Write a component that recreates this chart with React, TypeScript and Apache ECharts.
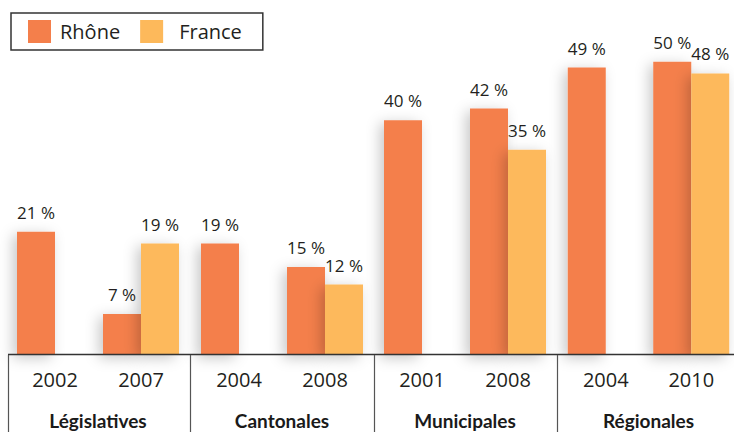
import React, { useEffect, useRef } from "react";
import * as echarts from "echarts";

const seriesNames = ["Rhône", "France"];
const groups = ["Législatives", "Cantonales", "Municipales", "Régionales"];
const years = ["2002", "2007", "2004", "2008", "2001", "2008", "2004", "2010"];
const rhone: (number | null)[] = [21, 7, 19, 15, 40, 42, 49, 50];
const france: (number | null)[] = [null, 19, null, 12, null, 35, null, 48];

const COLORS = ["#F47F4B", "#FDB95B"];
const FONT = '"Open Sans", "Noto Sans", sans-serif';
const NARROW = 'Lato, "Open Sans", sans-serif';
const gridLefts = [12, 196, 379, 563];
const GRID_W = 172;

export default function App() {
  const ref = useRef<HTMLDivElement>(null);
  useEffect(() => {
    if (!ref.current) return;
    const chart = echarts.init(ref.current, undefined, { renderer: "svg" });

    const grids = gridLefts.map((left) => ({ left, width: GRID_W, top: 3, bottom: 77 }));
    const yearAxes = groups.map((_, i) => ({
      type: "category",
      gridIndex: i,
      position: "bottom",
      data: years.slice(i * 2, i * 2 + 2),
      axisLine: { show: false },
      axisTick: { show: false },
      axisLabel: { margin: 14, fontSize: 20, color: "#231f20", fontFamily: FONT },
    }));
    const groupAxes = groups.map((g, i) => ({
      type: "category",
      gridIndex: i,
      position: "bottom",
      data: [g],
      axisLine: { show: false },
      axisTick: { show: false },
      axisLabel: {
        margin: 56,
        fontSize: 19,
        fontWeight: "bold",
        color: "#1a1a1a",
        fontFamily: NARROW,
      },
    }));
    const yAxes = groups.map((_, i) => ({
      type: "value",
      gridIndex: i,
      min: 0,
      max: 60,
      show: false,
    }));

    const mk = (name: string, vals: (number | null)[], color: string, i: number) => ({
      type: "bar",
      name,
      xAxisIndex: i,
      yAxisIndex: i,
      data: vals.slice(i * 2, i * 2 + 2),
      barWidth: 38,
      barGap: "0%",
      itemStyle: {
        color,
        shadowColor: "rgba(0,0,0,0.22)",
        shadowBlur: 14,
        shadowOffsetX: -4,
        shadowOffsetY: 3,
      },
      label: {
        show: true,
        position: "top",
        distance: 11,
        formatter: "{c} %",
        fontSize: 17,
        color: "#231f20",
        fontFamily: FONT,
      },
    });

    const series: any[] = [];
    groups.forEach((_, i) => {
      series.push(mk(seriesNames[0], rhone, COLORS[0], i));
      series.push(mk(seriesNames[1], france, COLORS[1], i));
    });

    const sepXs = [8.5, 190.5, 374.5, 557.5];

    chart.setOption({
      animation: false,
      textStyle: { fontFamily: FONT },
      color: COLORS,
      legend: {
        data: seriesNames,
        left: 11,
        top: 13,
        orient: "horizontal",
        icon: "rect",
        itemWidth: 23,
        itemHeight: 23,
        itemGap: 20,
        padding: [7, 21, 7, 17],
        borderColor: "#333",
        borderWidth: 1.5,
        formatter: (n: string) => (n === "Rhône" ? `{a|${n}}` : `{b|${n}}`),
        textStyle: {
          fontSize: 20,
          color: "#231f20",
          fontFamily: FONT,
          rich: {
            a: { fontSize: 20, padding: [0, 0, 0, 4], fontFamily: FONT, color: "#231f20" },
            b: { fontSize: 20, padding: [0, 0, 0, 11], fontFamily: FONT, color: "#231f20" },
          },
        },
      },
      grid: grids,
      xAxis: [...yearAxes, ...groupAxes],
      yAxis: yAxes,
      series,
      graphic: [
        {
          type: "line",
          shape: { x1: 8, y1: 354.5, x2: 734, y2: 354.5 },
          style: { stroke: "#333", lineWidth: 1.5 },
          z: 100,
        },
        ...sepXs.map((x) => ({
          type: "line",
          shape: { x1: x, y1: 355, x2: x, y2: 432 },
          style: { stroke: "#555", lineWidth: 1.2 },
          z: 100,
        })),
      ],
    });
    return () => chart.dispose();
  }, []);
  return (
    <div
      ref={ref}
      style={{ position: "fixed", left: 0, top: 0, width: 734, height: 432, background: "#fff" }}
    />
  );
}
